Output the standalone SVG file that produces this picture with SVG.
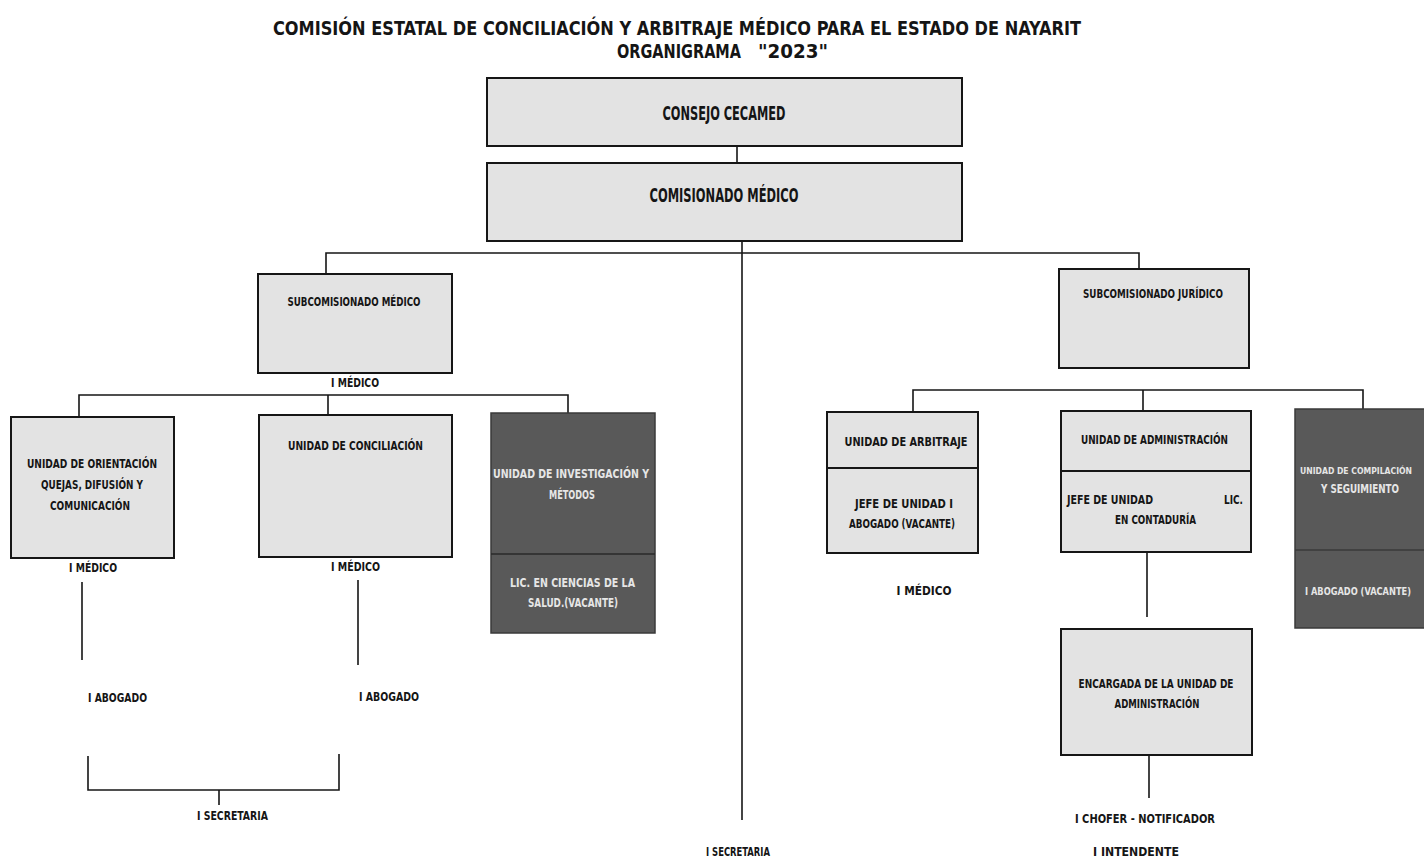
<svg xmlns="http://www.w3.org/2000/svg" width="1424" height="863" viewBox="0 0 1424 863">
<style>
.t{font-family:"DejaVu Sans","Liberation Sans",sans-serif;font-stretch:condensed;font-weight:bold;fill:#151515;text-anchor:middle}
.s{font-size:12px}
.w{fill:#e6e6e6}
.box{fill:#e3e3e3;stroke:#161616;stroke-width:2}
.dark{fill:#595959;stroke:#3a3a3a;stroke-width:1.5}
.ln{stroke:#161616;stroke-width:1.6;fill:none}
</style>
<rect width="1424" height="863" fill="#ffffff"/>
<g id="title">
<text class="t" x="677" y="35" font-size="20" textLength="808" lengthAdjust="spacingAndGlyphs">COMISIÓN ESTATAL DE CONCILIACIÓN Y ARBITRAJE MÉDICO PARA EL ESTADO DE NAYARIT</text>
<text class="t" x="679" y="58" font-size="19" textLength="124" lengthAdjust="spacingAndGlyphs">ORGANIGRAMA</text>
<text class="t" x="793" y="58" font-size="19" textLength="70" lengthAdjust="spacingAndGlyphs">"2023"</text>
</g>
<g id="connectors">
<path class="ln" d="M737 146V163"/>
<path class="ln" d="M742 241V820"/>
<path class="ln" d="M326 274V253H1139V269"/>
<path class="ln" d="M79 417V395H568V413M328 395V415"/>
<path class="ln" d="M82 582V660M358 580V665"/>
<path class="ln" d="M88 756V790H339V754M219 790V805"/>
<path class="ln" d="M913 412V390H1363V409M1143 390V411"/>
<path class="ln" d="M1147 552V617"/>
<path class="ln" d="M1149 755V798"/>
</g>
<g id="consejo">
<rect class="box" x="487" y="78" width="475" height="68"/>
<text class="t" x="724" y="120" font-size="20" textLength="123" lengthAdjust="spacingAndGlyphs">CONSEJO CECAMED</text>
</g>
<g id="comisionado">
<rect class="box" x="487" y="163" width="475" height="78"/>
<text class="t" x="724" y="202" font-size="20" textLength="149" lengthAdjust="spacingAndGlyphs">COMISIONADO MÉDICO</text>
</g>
<g id="subcom-medico">
<rect class="box" x="258" y="274" width="194" height="99"/>
<text class="t s" x="354" y="306" textLength="133" lengthAdjust="spacingAndGlyphs">SUBCOMISIONADO MÉDICO</text>
<text class="t s" x="355" y="387" textLength="48" lengthAdjust="spacingAndGlyphs">I MÉDICO</text>
</g>
<g id="orientacion">
<rect class="box" x="11" y="417" width="163" height="141"/>
<text class="t s" x="92" y="468" textLength="130" lengthAdjust="spacingAndGlyphs">UNIDAD DE ORIENTACIÓN</text>
<text class="t s" x="92" y="488.5" textLength="102" lengthAdjust="spacingAndGlyphs">QUEJAS, DIFUSIÓN Y</text>
<text class="t s" x="90" y="510" textLength="80" lengthAdjust="spacingAndGlyphs">COMUNICACIÓN</text>
<text class="t s" x="93" y="572" textLength="48" lengthAdjust="spacingAndGlyphs">I MÉDICO</text>
<text class="t s" x="117.5" y="702" textLength="59" lengthAdjust="spacingAndGlyphs">I ABOGADO</text>
</g>
<g id="conciliacion">
<rect class="box" x="259" y="415" width="193" height="142"/>
<text class="t s" x="355.5" y="450" textLength="135" lengthAdjust="spacingAndGlyphs">UNIDAD DE CONCILIACIÓN</text>
<text class="t s" x="355.5" y="571" textLength="49" lengthAdjust="spacingAndGlyphs">I MÉDICO</text>
<text class="t s" x="389" y="701" textLength="60" lengthAdjust="spacingAndGlyphs">I ABOGADO</text>
</g>
<g id="secretaria-left">
<text class="t s" x="232.5" y="820" textLength="71" lengthAdjust="spacingAndGlyphs">I SECRETARIA</text>
</g>
<g id="investigacion">
<rect class="dark" x="491" y="413" width="164" height="220"/>
<path d="M491 554H655" stroke="#2a2a2a" stroke-width="1.5"/>
<text class="t s w" x="571" y="478" textLength="156" lengthAdjust="spacingAndGlyphs">UNIDAD DE INVESTIGACIÓN Y</text>
<text class="t s w" x="572" y="499" textLength="46" lengthAdjust="spacingAndGlyphs">MÉTODOS</text>
<text class="t s w" x="572.5" y="587" textLength="125" lengthAdjust="spacingAndGlyphs">LIC. EN CIENCIAS DE LA</text>
<text class="t s w" x="573" y="607" textLength="90" lengthAdjust="spacingAndGlyphs">SALUD.(VACANTE)</text>
</g>
<g id="secretaria-center">
<text class="t s" x="738" y="856" textLength="64" lengthAdjust="spacingAndGlyphs">I SECRETARIA</text>
</g>
<g id="subcom-juridico">
<rect class="box" x="1059" y="269" width="190" height="99"/>
<text class="t s" x="1153" y="298" textLength="140" lengthAdjust="spacingAndGlyphs">SUBCOMISIONADO JURÍDICO</text>
</g>
<g id="arbitraje">
<rect class="box" x="827" y="412" width="151" height="141"/>
<path d="M827 468H978" stroke="#161616" stroke-width="2"/>
<text class="t s" x="906" y="446" textLength="123" lengthAdjust="spacingAndGlyphs">UNIDAD DE ARBITRAJE</text>
<text class="t s" x="904" y="508" textLength="98" lengthAdjust="spacingAndGlyphs">JEFE DE UNIDAD I</text>
<text class="t s" x="902" y="528" textLength="106" lengthAdjust="spacingAndGlyphs">ABOGADO (VACANTE)</text>
<text class="t s" x="924" y="595" textLength="55" lengthAdjust="spacingAndGlyphs">I  MÉDICO</text>
</g>
<g id="administracion">
<rect class="box" x="1061" y="411" width="190" height="141"/>
<path d="M1061 471H1251" stroke="#161616" stroke-width="2"/>
<text class="t s" x="1154.5" y="444" textLength="147" lengthAdjust="spacingAndGlyphs">UNIDAD DE ADMINISTRACIÓN</text>
<text class="t s" x="1110" y="504" textLength="86" lengthAdjust="spacingAndGlyphs">JEFE DE UNIDAD</text>
<text class="t s" x="1233.5" y="504" textLength="19" lengthAdjust="spacingAndGlyphs">LIC.</text>
<text class="t s" x="1155.5" y="524" textLength="81" lengthAdjust="spacingAndGlyphs">EN CONTADURÍA</text>
</g>
<g id="compilacion">
<rect x="1295" y="409" width="129" height="219" fill="#595959"/>
<path d="M1424 409H1295V628H1424M1295 550H1424" fill="none" stroke="#3a3a3a" stroke-width="1.5"/>
<text class="t w" x="1356" y="474" font-size="9" textLength="112" lengthAdjust="spacingAndGlyphs">UNIDAD DE COMPILACIÓN</text>
<text class="t s w" x="1360" y="493" textLength="78" lengthAdjust="spacingAndGlyphs">Y SEGUIMIENTO</text>
<text class="t w" x="1358" y="595" font-size="10" textLength="106" lengthAdjust="spacingAndGlyphs">I ABOGADO (VACANTE)</text>
</g>
<g id="encargada">
<rect class="box" x="1061" y="629" width="191" height="126"/>
<text class="t s" x="1156" y="688" textLength="155" lengthAdjust="spacingAndGlyphs">ENCARGADA DE LA UNIDAD DE</text>
<text class="t s" x="1157" y="708" textLength="85" lengthAdjust="spacingAndGlyphs">ADMINISTRACIÓN</text>
<text class="t s" x="1145" y="823" textLength="140" lengthAdjust="spacingAndGlyphs">I  CHOFER - NOTIFICADOR</text>
<text class="t s" x="1136" y="856" textLength="86" lengthAdjust="spacingAndGlyphs">I  INTENDENTE</text>
</g>
</svg>
